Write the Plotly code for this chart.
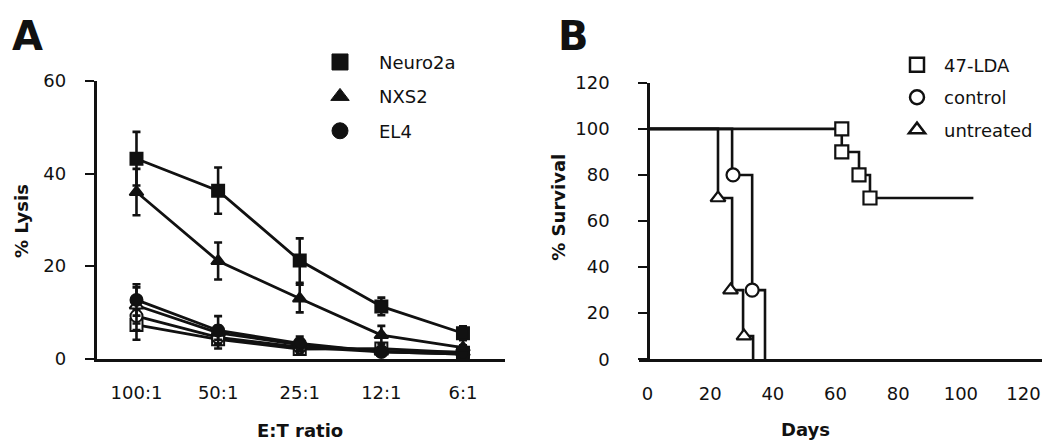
import plotly.graph_objects as go

# ---------- Panel A data ----------
ratios = ["100:1", "50:1", "25:1", "12:1", "6:1"]
neuro2a = [43.2, 36.3, 21.2, 11.3, 5.5]
neuro2a_err = [5.8, 5.0, 4.8, 1.9, 1.5]
nxs2 = [36.0, 21.1, 13.0, 5.1, 2.4]
nxs2_err = [5.0, 4.0, 3.0, 2.0, 0.5]
el4 = [12.7, 6.1, 3.3, 1.5, 1.0]
el4_err = [3.4, 3.1, 1.5, 0.8, 0.5]
ctrl_tri = [11.5, 5.6, 3.0, 1.6, 1.4]
ctrl_tri_err = [3.9, 1.5, 1.3, 0.8, 0.5]
ctrl_circ = [9.2, 4.6, 2.5, 1.5, 1.0]
ctrl_circ_err = [3.0, 1.5, 1.2, 0.8, 0.5]
ctrl_sq = [7.3, 4.2, 2.1, 2.2, 1.3]
ctrl_sq_err = [3.2, 2.0, 1.0, 0.8, 0.5]

# ---------- Panel B data ----------
lda_days = [0, 62, 62, 67.5, 71, 104]
lda_surv = [100, 100, 90, 80, 70, 70]
lda_mark_days = [62, 62, 67.5, 71]
lda_mark_surv = [100, 90, 80, 70]
control_days = [0, 27, 33.4, 37.5]
control_surv = [100, 80, 30, 0]
control_mark_days = [27.3, 33.4]
control_mark_surv = [80, 30]
untreated_days = [0, 22.5, 27, 30.5, 33.7]
untreated_surv = [100, 70, 30, 10, 0]
untreated_mark_days = [22.5, 26.5, 30.8]
untreated_mark_surv = [70, 30, 10]

FONT = "DejaVu Sans"
INK = "#111111"
W, H = 1050, 446
FS = 18

fig = go.Figure()

def a_series(y, err, symbol, fill):
    fig.add_trace(go.Scatter(
        x=ratios, y=y, mode="lines+markers", xaxis="x", yaxis="y",
        line=dict(color=INK, width=2.8),
        marker=dict(symbol=symbol, size=12, color=fill,
                    line=dict(color=INK, width=2)),
        error_y=dict(type="data", array=err, visible=True, color=INK,
                     thickness=2.6, width=4),
        showlegend=False, cliponaxis=False, hoverinfo="skip"))

a_series(ctrl_sq, ctrl_sq_err, "square", "white")
a_series(ctrl_circ, ctrl_circ_err, "circle", "white")
a_series(ctrl_tri, ctrl_tri_err, "triangle-up", "white")
a_series(el4, el4_err, "circle", INK)
a_series(nxs2, nxs2_err, "triangle-up", INK)
a_series(neuro2a, neuro2a_err, "square", INK)

# legend A (markers only)
for name, sym in [("Neuro2a", "square"), ("NXS2", "triangle-up"), ("EL4", "circle")]:
    fig.add_trace(go.Scatter(
        x=[None], y=[None], mode="markers", name=name, legend="legend",
        legendgroup=name, xaxis="x", yaxis="y",
        marker=dict(symbol=sym, size=16, color=INK, line=dict(color=INK, width=1))))

# Panel B lines
for dx, dy in [(untreated_days, untreated_surv), (control_days, control_surv),
               (lda_days, lda_surv)]:
    fig.add_trace(go.Scatter(
        x=dx, y=dy, mode="lines", line=dict(color=INK, width=2.6, shape="hv"),
        xaxis="x2", yaxis="y2", showlegend=False, cliponaxis=False, hoverinfo="skip"))

for dx, dy, sym in [(untreated_mark_days, untreated_mark_surv, "triangle-up"),
                    (control_mark_days, control_mark_surv, "circle"),
                    (lda_mark_days, lda_mark_surv, "square")]:
    fig.add_trace(go.Scatter(
        x=dx, y=dy, mode="markers",
        marker=dict(symbol=sym, size=13, color="white", line=dict(color=INK, width=2.2)),
        xaxis="x2", yaxis="y2", showlegend=False, cliponaxis=False, hoverinfo="skip"))

for name, sym in [("47-LDA", "square"), ("control", "circle"), ("untreated", "triangle-up")]:
    fig.add_trace(go.Scatter(
        x=[None], y=[None], mode="markers", name=name, legend="legend2",
        legendgroup=name, xaxis="x2", yaxis="y2",
        marker=dict(symbol=sym, size=14, color="white", line=dict(color=INK, width=2.5))))

axis_common = dict(showgrid=False, zeroline=False, showline=True, linecolor=INK,
                   linewidth=2.6, tickfont=dict(family=FONT, size=FS, color=INK))

fig.update_layout(
    width=W, height=H, margin=dict(l=0, r=0, t=0, b=0),
    paper_bgcolor="white", plot_bgcolor="white",
    font=dict(family=FONT, size=FS, color=INK),
    xaxis=dict(domain=[88.5 / W, 497 / W], range=[-0.49, 4.515], type="category",
               ticks="", anchor="y", ticklabelstandoff=16, **axis_common),
    yaxis=dict(domain=[(H - 356.5) / H, (H - 65) / H], range=[0, 60], dtick=20,
               ticks="outside", ticklen=9, tickwidth=2, tickcolor=INK, anchor="x",
               ticklabelstandoff=15, **axis_common),
    xaxis2=dict(domain=[631 / W, 1.0], range=[-2.71, 131.0], dtick=20, ticks="",
                anchor="y2", ticklabelstandoff=16, **axis_common),
    yaxis2=dict(domain=[(H - 357) / H, (H - 67) / H], range=[0, 120], dtick=20,
                ticks="outside", ticklen=9, tickwidth=2, tickcolor=INK,
                anchor="free", position=640 / W, ticklabelstandoff=25, **axis_common),
    legend=dict(x=293 / W, y=1 - 26 / H, xanchor="left", yanchor="top",
                bgcolor="rgba(0,0,0,0)", font=dict(family=FONT, size=FS, color=INK),
                tracegroupgap=8, itemwidth=68),
    legend2=dict(x=882 / W, y=1 - 29 / H, xanchor="left", yanchor="top",
                 bgcolor="rgba(0,0,0,0)", font=dict(family=FONT, size=FS, color=INK),
                 tracegroupgap=6, itemwidth=44),
    annotations=[
        dict(text="<b>A</b>", x=19 / W, y=1 - 44 / H, xref="paper", yref="paper",
             xanchor="center", yanchor="bottom", showarrow=False,
             font=dict(family=FONT, size=40, color=INK)),
        dict(text="<b>B</b>", x=565 / W, y=1 - 44 / H, xref="paper", yref="paper",
             xanchor="center", yanchor="bottom", showarrow=False,
             font=dict(family=FONT, size=40, color=INK)),
        dict(text="<b>E:T ratio</b>", x=292 / W, y=1 - 432 / H, xref="paper", yref="paper",
             xanchor="center", yanchor="middle", showarrow=False,
             font=dict(family=FONT, size=FS, color=INK)),
        dict(text="<b>Days</b>", x=797 / W, y=1 - 431 / H, xref="paper", yref="paper",
             xanchor="center", yanchor="middle", showarrow=False,
             font=dict(family=FONT, size=FS, color=INK)),
        dict(text="<b>% Lysis</b>", x=13 / W, y=1 - 212 / H, xref="paper", yref="paper",
             xanchor="center", yanchor="middle", showarrow=False, textangle=-90,
             font=dict(family=FONT, size=FS, color=INK)),
        dict(text="<b>% Survival</b>", x=551 / W, y=1 - 198 / H, xref="paper", yref="paper",
             xanchor="center", yanchor="middle", showarrow=False, textangle=-90,
             font=dict(family=FONT, size=FS, color=INK)),
    ],
)

fig.write_html("out.html")
